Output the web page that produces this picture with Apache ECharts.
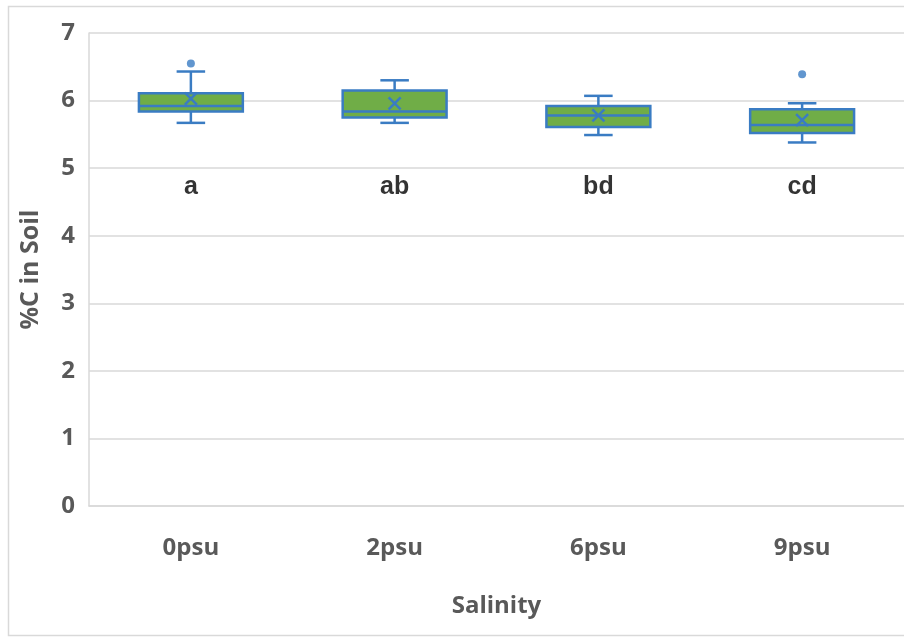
<!DOCTYPE html>
<html>
<head>
<meta charset="utf-8">
<script src="https://cdn.jsdelivr.net/npm/echarts@6/dist/echarts.min.js"></script>
<style>
  html, body { margin: 0; padding: 0; background: #fff; }
  #chart { width: 904px; height: 639px; }
</style>
</head>
<body>
<div id="chart"></div>
<script>
// Soil carbon by salinity treatment
const categories = ['0psu', '2psu', '6psu', '9psu'];
const whiskerLow = [5.67, 5.67, 5.49, 5.38];
const q1 = [5.84, 5.75, 5.61, 5.52];
const median = [5.92, 5.84, 5.78, 5.64];
const q3 = [6.11, 6.15, 5.92, 5.87];
const whiskerHigh = [6.43, 6.30, 6.07, 5.96];
const means = [6.03, 5.96, 5.78, 5.71];
const outliers = [[0, 6.55], [3, 6.39]];
const groupLetters = ['a', 'ab', 'bd', 'cd'];
const letterLevel = 4.72;
const yTicks = { min: 0, max: 7, interval: 1 };

const BLUE = '#3a7cc3';
const GREEN = '#70ad47';
const GREY_TEXT = '#595959';
const FONT = '"Open Sans", sans-serif';

const boxData = categories.map((c, i) =>
  [i, whiskerLow[i], q1[i], median[i], q3[i], whiskerHigh[i], means[i]]);

function renderBox(params, api) {
  const idx = api.value(0);
  const band = api.size([1, 0])[0];
  const boxW = band * 0.51;
  const capW = band * 0.14;
  const pLow = api.coord([idx, api.value(1)]);
  const pQ1 = api.coord([idx, api.value(2)]);
  const pMed = api.coord([idx, api.value(3)]);
  const pQ3 = api.coord([idx, api.value(4)]);
  const pHigh = api.coord([idx, api.value(5)]);
  const pMean = api.coord([idx, api.value(6)]);
  const x = pMed[0];
  const ls = { stroke: BLUE, lineWidth: 2.5 };
  const m = 6;
  return {
    type: 'group',
    children: [
      { type: 'line', shape: { x1: x, y1: pHigh[1], x2: x, y2: pQ3[1] }, style: ls },
      { type: 'line', shape: { x1: x, y1: pLow[1], x2: x, y2: pQ1[1] }, style: ls },
      { type: 'line', shape: { x1: x - capW / 2, y1: pHigh[1], x2: x + capW / 2, y2: pHigh[1] }, style: ls },
      { type: 'line', shape: { x1: x - capW / 2, y1: pLow[1], x2: x + capW / 2, y2: pLow[1] }, style: ls },
      { type: 'rect', shape: { x: x - boxW / 2, y: pQ3[1], width: boxW, height: pQ1[1] - pQ3[1] },
        style: { fill: GREEN, stroke: BLUE, lineWidth: 2.5 } },
      { type: 'line', shape: { x1: x - boxW / 2, y1: pMed[1], x2: x + boxW / 2, y2: pMed[1] }, style: ls },
      { type: 'line', shape: { x1: x - m, y1: pMean[1] - m, x2: x + m, y2: pMean[1] + m }, style: ls },
      { type: 'line', shape: { x1: x - m, y1: pMean[1] + m, x2: x + m, y2: pMean[1] - m }, style: ls }
    ]
  };
}

const chart = echarts.init(document.getElementById('chart'));
chart.setOption({
  animation: false,
  backgroundColor: '#fff',
  graphic: [{
    type: 'rect',
    shape: { x: 8.5, y: 6.5, width: 920, height: 629 },
    style: { fill: 'none', stroke: '#d9d9d9', lineWidth: 1.5 },
    z: -1
  }],
  grid: { left: 89, top: 33, width: 820, height: 473 },
  xAxis: {
    type: 'category',
    data: categories,
    name: 'Salinity',
    nameLocation: 'middle',
    nameGap: 88,
    nameTextStyle: { fontFamily: FONT, fontWeight: 'bold', fontSize: 24, color: GREY_TEXT },
    axisLine: { lineStyle: { color: '#d9d9d9', width: 1.5 } },
    axisTick: { show: false },
    axisLabel: { fontFamily: FONT, fontWeight: 'bold', fontSize: 24, color: GREY_TEXT, margin: 30 }
  },
  yAxis: {
    type: 'value',
    min: yTicks.min,
    max: yTicks.max,
    interval: yTicks.interval,
    name: '%C in Soil',
    nameLocation: 'middle',
    nameGap: 46,
    nameTextStyle: { fontFamily: FONT, fontWeight: 'bold', fontSize: 25, color: GREY_TEXT },
    axisLine: { show: true, lineStyle: { color: '#d9d9d9', width: 1.5 } },
    axisTick: { show: false },
    splitLine: { lineStyle: { color: '#d9d9d9', width: 1.5 } },
    axisLabel: { fontFamily: FONT, fontWeight: 'bold', fontSize: 24, color: GREY_TEXT, margin: 14 }
  },
  series: [
    {
      type: 'custom',
      renderItem: renderBox,
      encode: { x: 0, y: [1, 2, 3, 4, 5, 6] },
      data: boxData,
      z: 3
    },
    {
      type: 'scatter',
      data: outliers,
      symbol: 'circle',
      symbolSize: 8,
      itemStyle: { color: BLUE },
      z: 4
    },
    {
      type: 'scatter',
      data: groupLetters.map((t, i) => ({ value: [i, letterLevel], name: t })),
      symbolSize: 0,
      label: {
        show: true,
        position: 'inside',
        formatter: p => p.name,
        fontFamily: '"Liberation Sans", Arial, sans-serif',
        fontWeight: 'bold',
        fontSize: 25,
        color: '#000'
      },
      z: 5
    }
  ]
});
</script>
</body>
</html>
